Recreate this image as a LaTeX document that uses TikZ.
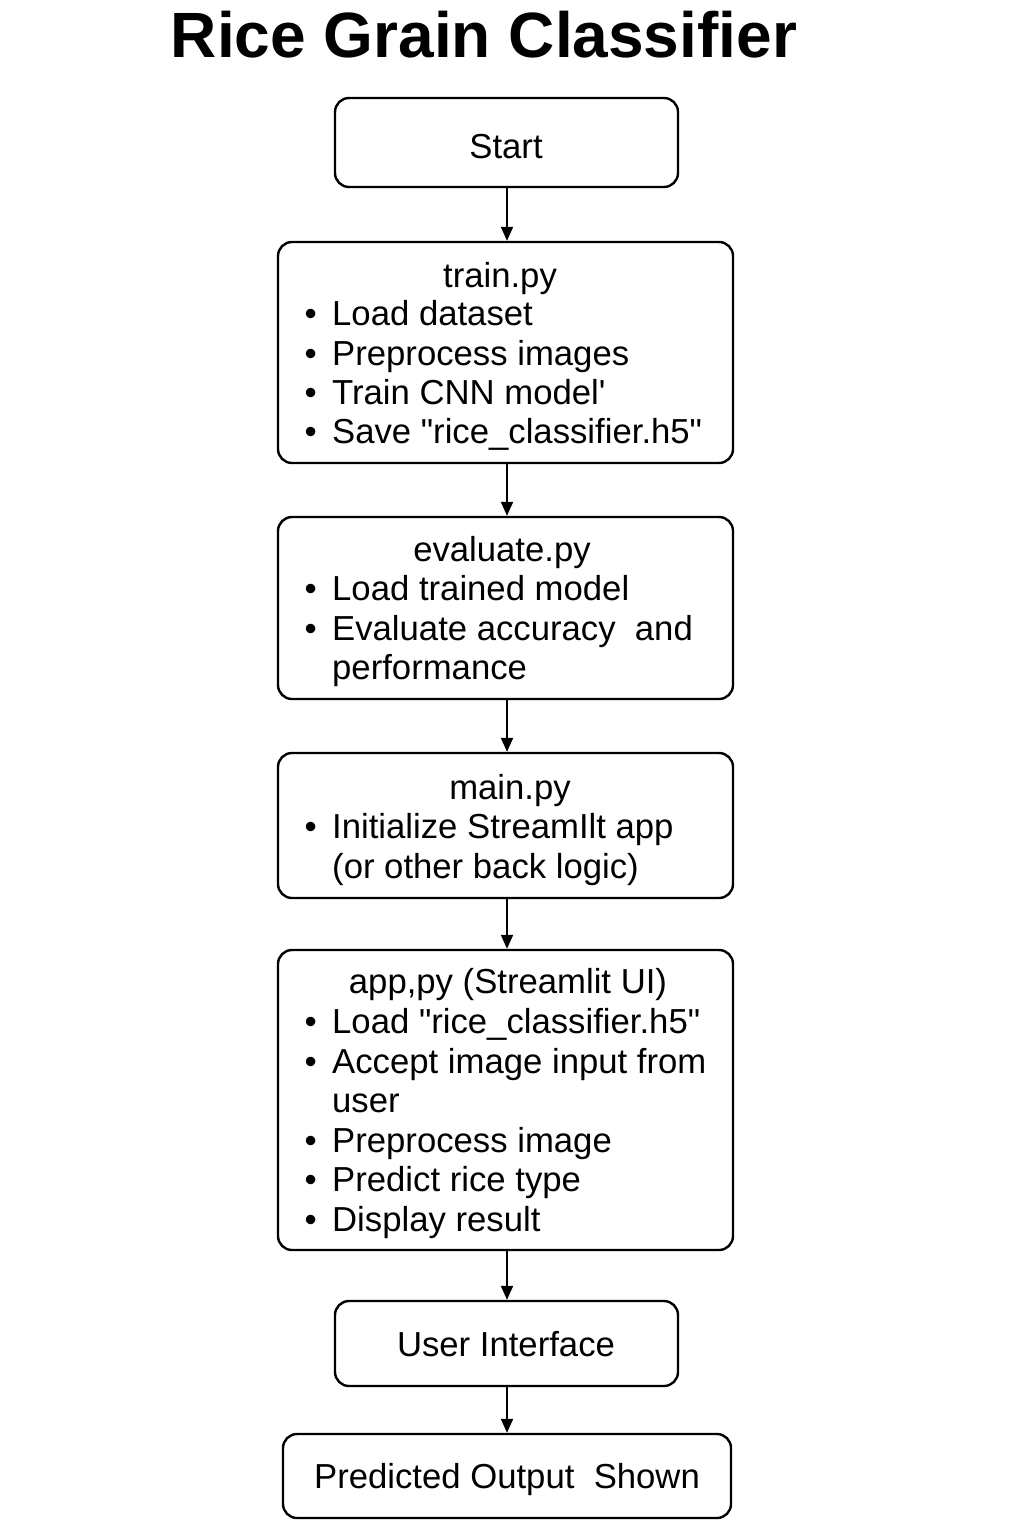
\documentclass[tikz,border=0pt]{standalone}
\usepackage{fontspec}
\setmainfont{Liberation Sans}
\usetikzlibrary{arrows.meta}
\tikzset{
  box/.style={draw=black, line width=2.4pt, rounded corners=14pt, fill=white, inner sep=0pt},
  txt/.style={anchor=base west, inner sep=0pt, font=\fontsize{34.7}{40}\selectfont},
  ctxt/.style={anchor=base, inner sep=0pt, font=\fontsize{34.7}{40}\selectfont},
  conn/.style={draw=black, line width=2pt, -{Triangle[length=14pt,width=12pt]}}
}
\newcommand{\bul}{\makebox[27.5pt][l]{•}}
\newcommand{\dq}{\XeTeXglyph\the\XeTeXcharglyph"22\relax}
\newcommand{\sq}{\XeTeXglyph\the\XeTeXcharglyph"27\relax}
\begin{document}
\begin{tikzpicture}[x=1pt,y=-1pt]
\useasboundingbox[fill=white] (0,0) rectangle (1024,1536);
% title
\node[anchor=base, inner sep=0pt, font=\fontsize{64}{70}\selectfont\bfseries] (title) at (484,58) {Rice Grain Classifier};
% boxes
\node[box, minimum width=343pt, minimum height=89pt] (start) at (506.5,142.5) {};
\node[box, minimum width=455pt, minimum height=221pt] (train) at (505.5,352.5) {};
\node[box, minimum width=455pt, minimum height=182pt] (eval) at (505.5,608) {};
\node[box, minimum width=455pt, minimum height=145pt] (mainb) at (505.5,825.5) {};
\node[box, minimum width=455pt, minimum height=300pt] (app) at (505.5,1100) {};
\node[box, minimum width=343pt, minimum height=85pt] (ui) at (506.5,1343.5) {};
\node[box, minimum width=448pt, minimum height=84pt] (out) at (507,1476) {};
% texts
\node[ctxt] (tstart) at (506,158) {Start};
\node[ctxt] (ttrain) at (500,287) {train.py};
\node[txt] (t1) at (304.5,325) {\bul Load dataset};
\node[txt] (t2) at (304.5,365) {\bul Preprocess images};
\node[txt] (t3) at (304.5,404) {\bul Train CNN model\sq};
\node[txt] (t4) at (304.5,443) {\bul Save \dq rice\_classifier.h5\dq};
\node[ctxt] (teval) at (502,561) {evaluate.py};
\node[txt] (e1) at (304.5,600) {\bul Load trained model};
\node[txt] (e2) at (304.5,640) {\bul Evaluate accuracy\ \ and};
\node[txt] (e3) at (332,679) {performance};
\node[ctxt] (tmain) at (510,799) {main.py};
\node[txt] (m1) at (304.5,838) {\bul Initialize StreamIlt app};
\node[txt] (m2) at (332,878) {(or other back logic)};
\node[ctxt] (tapp) at (508,993) {app,py (Streamlit UI)};
\node[txt] (a1) at (304.5,1033) {\bul Load \dq rice\_classifier.h5\dq};
\node[txt] (a2) at (304.5,1073) {\bul Accept image input from};
\node[txt] (a3) at (332,1112) {user};
\node[txt] (a4) at (304.5,1152) {\bul Preprocess image};
\node[txt] (a5) at (304.5,1191) {\bul Predict rice type};
\node[txt] (a6) at (304.5,1231) {\bul Display result};
\node[ctxt] (tui) at (506,1356) {User Interface};
\node[ctxt] (tout) at (507,1488) {Predicted Output\ \ Shown};
% connectors
\draw[conn] (start.south -| 507,0) -- (train.north -| 507,0);
\draw[conn] (train.south -| 507,0) -- (eval.north -| 507,0);
\draw[conn] (eval.south -| 507,0) -- (mainb.north -| 507,0);
\draw[conn] (mainb.south -| 507,0) -- (app.north -| 507,0);
\draw[conn] (app.south -| 507,0) -- (ui.north -| 507,0);
\draw[conn] (ui.south -| 507,0) -- (out.north -| 507,0);
\end{tikzpicture}
\end{document}
